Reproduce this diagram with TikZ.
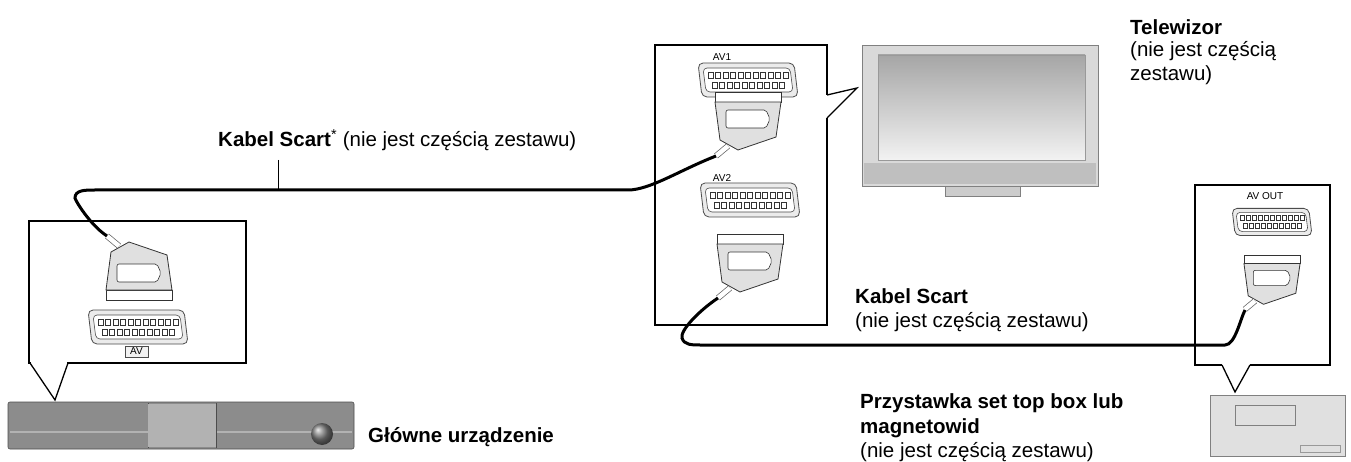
\documentclass[tikz,border=0pt]{standalone}
\usepackage{fontspec}
\setmainfont{Liberation Sans}
\begin{document}
\begin{tikzpicture}[x=1pt,y=-1pt,
  box/.style={draw=black,line width=1.3pt,fill=white},
  cable/.style={line width=3pt,black},
  lbl/.style={font=\fontsize{20.5}{22}\selectfont,anchor=west,inner sep=0pt},
  blbl/.style={lbl,font=\fontsize{20.5}{22}\selectfont\bfseries},
  small/.style={font=\fontsize{10}{11}\selectfont,inner sep=0pt},
  dev/.style={draw=black!70,fill=black!45,line width=0.6pt},
  scartsocket/.pic={
    \draw[black!70,line width=0.8pt,fill=black!8,rounded corners=5pt] (-50,-17)--(46,-17)--(50,17)--(-46,17)--cycle;
    \draw[black!70,line width=0.6pt,fill=white,rounded corners=4pt] (-45,-12)--(42,-12)--(45,12)--(-42,12)--cycle;
    \foreach \i in {0,...,10} \draw[black!80,fill=white] (-40+\i*7.5,-8) rectangle ++(5,6);
    \foreach \i in {0,...,9} \draw[black!80,fill=white] (-36+\i*7.5,2) rectangle ++(5,6);
  },
  scartplug/.pic={
    \draw[black!80,line width=0.8pt,fill=white] (-33,0) rectangle (33,10);
    \draw[black!80,line width=0.8pt,fill=black!12] (-33,10)--(33,10)--(28,45)--(-10,58)--(-28,48)--cycle;
    \draw[black!80,line width=0.6pt,fill=white,rounded corners=2pt] (-22,18)--(18,18)--(22,27)--(18,36)--(-22,36)--cycle;
    \draw[black!60,line width=6pt] (-20,54)--(-32,64);
    \draw[white,line width=4.5pt] (-20,54)--(-32,64);
  }]
\useasboundingbox (0,0) rectangle (1351,462);
% ---- left box and main device
\draw[box] (29,221) rectangle (246,363);
\fill[white] (31,361) rectangle (67,366);
\draw[line width=1.3pt] (30,363)--(55,400)--(68,363);
\draw[dev,rounded corners=2pt] (8,402) rectangle (354,449);
\draw[black!30,line width=1.5pt] (10,432)--(352,432);
\draw[black!70] (148,403)--(148,448) (216,403)--(216,448);
\fill[black!30] (148,404) rectangle (216,447);
\shade[ball color=black!50] (322,434) circle (11);
\node[blbl] (main) at (368,437) {Główne urządzenie};
\pic at (138,327) {scartsocket};
\draw[black!70,fill=black!5] (125,346) rectangle (148,357);
\node[small] (avl) at (136.5,351.5) {AV};
\pic[yscale=-1] (lp) at (139,300) {scartplug};
\coordinate (c1a) at (107,236);
% ---- middle box
\draw[box] (655,45) rectangle (827,325);
\fill[white] (825,95) rectangle (830,118);
\draw[line width=1.3pt] (827,95)--(857,88)--(827,118);
\node[small] (av1) at (722,57) {AV1};
\pic at (748,80) {scartsocket};
\pic at (748,92) {scartplug};
\coordinate (c1b) at (716,156);
\node[small] (av2) at (722,178) {AV2};
\pic at (750,200) {scartsocket};
\pic at (750,234) {scartplug};
\coordinate (c2a) at (718,298);
% cable 1
\draw[cable] (c1a) .. controls (90,225) and (75,200) .. (75,198) .. controls (75,190) and (85,190) .. (95,190) -- (628,190) .. controls (650,190) and (680,170) .. (c1b);
\draw[line width=0.8pt] (278,160)--(278,190);
\node[lbl] (k1) at (218,140) {\textbf{Kabel Scart}\textsuperscript{*} (nie jest częścią zestawu)};
% ---- TV
\draw[black!50,fill=black!15,line width=0.8pt] (862,45) rectangle (1098,186);
\shade[top color=black!35,bottom color=black!5] (878,55) rectangle (1085,160);
\draw[black!40] (878,55) rectangle (1085,160);
\fill[black!25] (864,163) rectangle (1096,184);
\draw[black!50,fill=black!20] (945,186) rectangle (1020,196);
\node[blbl] (tv) at (1130,27) {Telewizor};
\node[lbl] at (1130,51) {(nie jest częścią};
\node[lbl] at (1130,75) {zestawu)};
% ---- right box
\draw[box] (1195,185) rectangle (1330,365);
\fill[white] (1222,362) rectangle (1250,367);
\draw[line width=1.3pt] (1222,365)--(1235,392)--(1250,365);
\node[small] (avo) at (1265,196) {AV OUT};
\pic[scale=0.8] at (1272,222) {scartsocket};
\pic[scale=0.85] at (1272,255) {scartplug};
\coordinate (c2b) at (1245,310);
\draw[cable] (c2a) .. controls (700,310) and (680,330) .. (682,338) .. controls (684,345) and (692,345) .. (700,345) -- (1225,345) .. controls (1235,345) and (1240,320) .. (c2b);
\node[blbl] (k2) at (855,296) {Kabel Scart};
\node[lbl] at (855,322) {(nie jest częścią zestawu)};
% ---- VCR
\draw[black!50,fill=black!12] (1210,395) rectangle (1345,456);
\draw[black!50] (1235,405) rectangle (1295,425);
\draw[black!40] (1300,445) rectangle (1340,452);
\node[blbl] (stb) at (860,403) {Przystawka set top box lub};
\node[blbl] at (860,428) {magnetowid};
\node[lbl] at (860,452) {(nie jest częścią zestawu)};
\end{tikzpicture}
\end{document}
